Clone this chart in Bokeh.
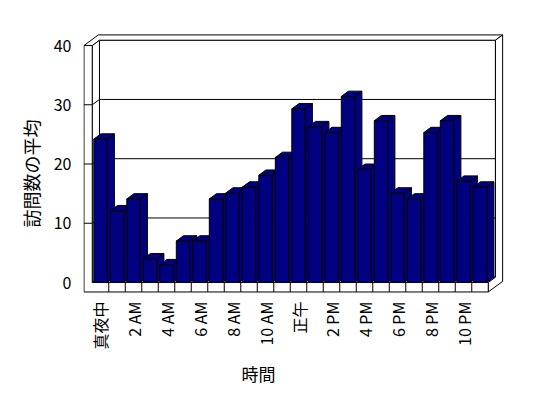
import math
from bokeh.plotting import figure
from bokeh.models import Range1d, FixedTicker, Title, ColumnDataSource
from bokeh.embed import file_html
from bokeh.resources import INLINE

# ---- data ----
hours = list(range(24))
visits = [24.2, 12.1, 14.1, 4.0, 3.0, 7.0, 7.0, 14.1, 15.1, 16.1, 18.1, 21.1,
          29.3, 26.3, 25.3, 31.4, 19.1, 27.3, 15.1, 14.1, 25.3, 27.3, 17.1, 16.1]
tick_positions = [0, 2, 4, 6, 8, 10, 12, 14, 16, 18, 20, 22]
tick_labels = ["真夜中", "2 AM", "4 AM", "6 AM", "8 AM", "10 AM",
               "正午", "2 PM", "4 PM", "6 PM", "8 PM", "10 PM"]
y_ticks = [0, 10, 20, 30, 40]
y_title = "訪問数の平均"
x_title = "時間"

# ---- style / geometry constants (in axis units) ----
BAR = "#000080"
FONT = "Noto Sans CJK JP"
HW = 0.406          # half width of bar front face
DX, DY = 0.436, 0.894   # 3D depth offset
YMAX = 40
FLOOR = 1.6
LEFT_OUT, LEFT_IN = -1.0, -0.5
RIGHT = 23.5

p = figure(frame_width=422, frame_height=265, min_border_left=83, min_border_top=30,
           min_border_right=30, min_border_bottom=100,
           x_range=Range1d(-1.0303, 24.5454), y_range=Range1d(-2.194, 42.532),
           output_backend="svg", toolbar_location=None)
p.xgrid.visible = False
p.ygrid.visible = False
p.outline_line_color = None
p.background_fill_color = "white"
p.border_fill_color = "white"

# axes
p.yaxis.ticker = FixedTicker(ticks=y_ticks)
p.yaxis.axis_line_color = None
p.yaxis.major_tick_line_color = None
p.yaxis.minor_tick_line_color = None
p.yaxis.major_tick_out = 0
p.yaxis.major_label_standoff = 12
p.yaxis.major_label_text_font = FONT
p.yaxis.major_label_text_font_size = "16px"
p.yaxis.major_label_text_color = "black"

p.xaxis.ticker = FixedTicker(ticks=tick_positions)
p.xaxis.major_label_overrides = {t: l for t, l in zip(tick_positions, tick_labels)}
p.xaxis.major_label_orientation = math.pi / 2
p.xaxis.axis_line_color = None
p.xaxis.major_tick_line_color = None
p.xaxis.minor_tick_line_color = None
p.xaxis.major_tick_out = 0
p.xaxis.major_label_standoff = 6
p.xaxis.major_label_text_font = FONT
p.xaxis.major_label_text_font_size = "16px"
p.xaxis.major_label_text_color = "black"

lw = 1
# back wall front face
p.quad(left=[LEFT_IN + DX], right=[RIGHT + DX], bottom=[DY], top=[YMAX + DY],
       fill_color="white", line_color="black", line_width=lw)
# left wall inner face
p.patch([LEFT_IN, LEFT_IN, LEFT_IN + DX, LEFT_IN + DX], [0, YMAX, YMAX + DY, DY],
        fill_color="white", line_color="black", line_width=lw)
# floor top
p.patch([LEFT_IN, RIGHT, RIGHT + DX, LEFT_IN + DX], [0, 0, DY, DY],
        fill_color="white", line_color="black", line_width=lw)
# gridlines on walls
grid_vals = [v for v in y_ticks if 0 < v < YMAX]
p.multi_line([[LEFT_IN, LEFT_IN + DX, RIGHT + DX] for v in grid_vals],
             [[v, v + DY, v + DY] for v in grid_vals], line_color="black", line_width=lw)

# bars
src = ColumnDataSource(dict(
    left=[h - HW for h in hours], right=[h + HW for h in hours],
    top=visits, bottom=[0] * len(hours),
    side_x=[[h + HW, h + HW, h + HW + DX, h + HW + DX] for h in hours],
    side_y=[[0, v, v + DY, DY] for v in visits],
    top_x=[[h - HW, h + HW, h + HW + DX, h - HW + DX] for h in hours],
    top_y=[[v, v, v + DY, v + DY] for v in visits],
))
p.patches("side_x", "side_y", source=src, fill_color=BAR, line_color="black", line_width=lw)
p.patches("top_x", "top_y", source=src, fill_color=BAR, line_color="black", line_width=lw)
p.quad(left="left", right="right", top="top", bottom="bottom", source=src,
       fill_color=BAR, line_color="black", line_width=lw)

# top of walls
p.patch([LEFT_OUT, LEFT_IN, LEFT_IN + DX, RIGHT + DX, RIGHT + 2 * DX, LEFT_OUT + 2 * DX],
        [YMAX, YMAX, YMAX + DY, YMAX + DY, YMAX + 2 * DY, YMAX + 2 * DY],
        fill_color="white", line_color="black", line_width=lw)
# right side of floor and back wall
p.patch([RIGHT + DX, RIGHT + 2 * DX, RIGHT + 2 * DX, RIGHT, RIGHT, RIGHT + DX],
        [YMAX + DY, YMAX + 2 * DY, -FLOOR + 2 * DY, -FLOOR, 0, DY],
        fill_color="white", line_color="black", line_width=lw)
# front faces of left wall and floor
p.patch([LEFT_OUT, RIGHT, RIGHT, LEFT_IN, LEFT_IN, LEFT_OUT],
        [-FLOOR, -FLOOR, 0, 0, YMAX, YMAX],
        fill_color="white", line_color="black", line_width=lw)
# category dividers on floor front
p.segment(x0=[h + 0.5 for h in hours[:-1]], y0=[-FLOOR] * 23,
          x1=[h + 0.5 for h in hours[:-1]], y1=[0] * 23, line_color="black", line_width=lw)
# gridline marks on left wall front face
p.segment(x0=[LEFT_OUT] * len(grid_vals), y0=grid_vals, x1=[LEFT_IN] * len(grid_vals),
          y1=grid_vals, line_color="black", line_width=lw)

# axis titles
p.add_layout(Title(text=y_title, align="left", offset=68, standoff=14,
                   text_font=FONT, text_font_size="18px", text_font_style="normal",
                   text_color="black"), "left")
p.add_layout(Title(text=x_title, align="left", offset=158, standoff=13,
                   text_font=FONT, text_font_size="17px", text_font_style="normal",
                   text_color="black"), "below")

open("out.html", "w").write(file_html(p, INLINE))
